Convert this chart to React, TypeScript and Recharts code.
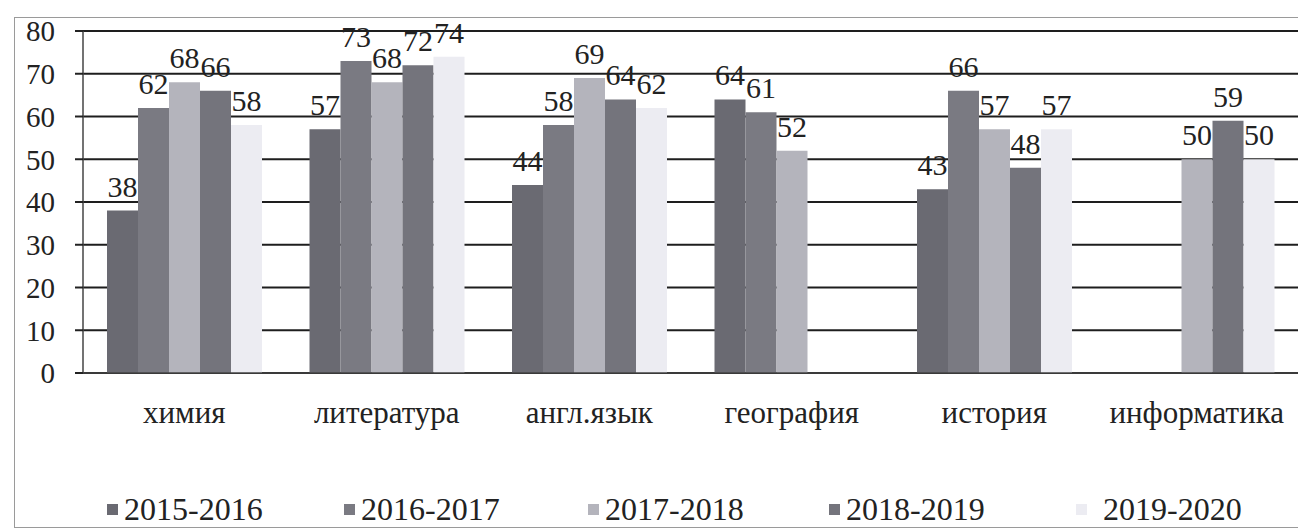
import React from "react";
import { BarChart, Bar, XAxis, YAxis, CartesianGrid, LabelList } from "recharts";

const categories = ["химия", "литература", "англ.язык", "география", "история", "информатика"];
const seriesNames = ["2015-2016", "2016-2017", "2017-2018", "2018-2019", "2019-2020"];
const s2015: (number | null)[] = [38, 57, 44, 64, 43, null];
const s2016: (number | null)[] = [62, 73, 58, 61, 66, null];
const s2017: (number | null)[] = [68, 68, 69, 52, 57, 50];
const s2018: (number | null)[] = [66, 72, 64, null, 48, 59];
const s2019: (number | null)[] = [58, 74, 62, null, 57, 50];
const yTicks = [0, 10, 20, 30, 40, 50, 60, 70, 80];
const colors = ["#6a6a72", "#7a7a82", "#b4b4bc", "#74747c", "#ececf2"];
const legendX = [107, 344, 588, 829, 1076];

const seriesValues = [s2015, s2016, s2017, s2018, s2019];
const data = categories.map((c, i) => {
  const row: Record<string, string | number | null> = { name: c };
  seriesNames.forEach((s, k) => {
    row[s] = seriesValues[k][i];
  });
  return row;
});

const FONT = "\"Liberation Serif\"";

export default function App() {
  return (
    <div style={{ position: "absolute", left: 0, top: 0, width: 1298, height: 530, background: "#fff", fontFamily: FONT }}>
      <div style={{ position: "absolute", left: 14, top: 17, width: 1290, height: 509, border: "1px solid #9a9a9a" }} />
      <BarChart
        width={1298}
        height={530}
        data={data}
        margin={{ top: 31, right: 0, bottom: 97, left: 0 }}
        barGap={0}
        barCategoryGap={24}
        style={{ position: "absolute", left: 0, top: 0, fontFamily: FONT }}
      >
        <CartesianGrid vertical={false} stroke="#1e1e1e" strokeWidth={2} />
        <XAxis
          dataKey="name"
          height={60}
          tickLine={false}
          axisLine={{ stroke: "#444", strokeWidth: 1.5 }}
          tickMargin={22}
          tick={{ fontSize: 31, fill: "#222", fontFamily: FONT }}
        />
        <YAxis
          width={83}
          domain={[0, 80]}
          ticks={yTicks}
          interval={0}
          tickSize={8}
          tickMargin={20}
          axisLine={{ stroke: "#444", strokeWidth: 1.5 }}
          tickLine={{ stroke: "#222", strokeWidth: 2 }}
          tick={{ fontSize: 29, fill: "#222", fontFamily: FONT }}
        />
        {seriesNames.map((s, k) => (
          <Bar key={s} dataKey={s} fill={colors[k]} isAnimationActive={false}>
            <LabelList dataKey={s} position="top" offset={14} style={{ fontSize: 30, fill: "#222", fontFamily: FONT }} />
          </Bar>
        ))}
      </BarChart>
      {seriesNames.map((s, k) => (
        <div
          key={s}
          style={{ position: "absolute", left: legendX[k], top: 489, height: 40, display: "flex", alignItems: "center", fontSize: 32, color: "#222", fontFamily: FONT, whiteSpace: "nowrap" }}
        >
          <span style={{ display: "inline-block", width: 11, height: 11, background: colors[k], marginRight: k === 4 ? 16 : 6 }} />
          <span>{s}</span>
        </div>
      ))}
    </div>
  );
}
